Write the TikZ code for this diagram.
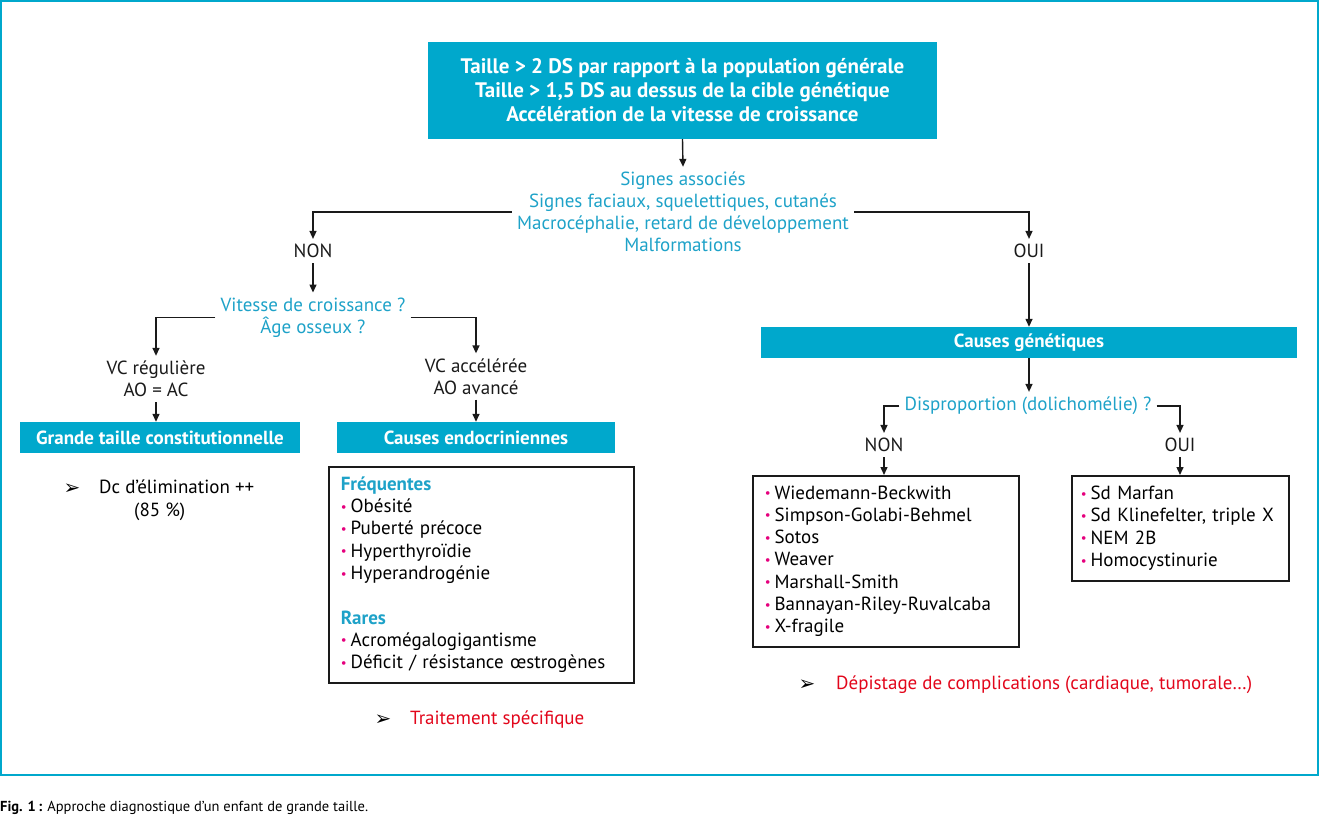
\documentclass[tikz,border=0pt]{standalone}
\usepackage{fontspec}
\setmainfont{PT Sans}
\newfontfamily\symfont{DejaVu Sans}
\usetikzlibrary{arrows.meta,positioning,calc}
\definecolor{gtCyan}{HTML}{00A8CC}
\definecolor{gtCyanTxt}{HTML}{1EA2C8}
\definecolor{gtRed}{HTML}{E2061B}
\definecolor{gtPink}{HTML}{E5007D}
\definecolor{gtInk}{HTML}{1A1A1A}
\newcommand{\puce}{\textcolor{gtPink}{\raisebox{1.5pt}{\fontsize{13}{13}\selectfont •}}\hspace{4pt}}
\newcommand{\fleche}{{\symfont ➢}}
\tikzset{
  hdr/.style={fill=gtCyan, text=white, font=\bfseries\fontsize{19}{22}\selectfont, align=center, inner sep=0pt},
  lbl/.style={text=gtInk, align=center, inner sep=5pt},
  qst/.style={lbl, text=gtCyanTxt},
  lst/.style={draw=gtInk, line width=1.5pt, anchor=north west, align=left, inner xsep=12pt, inner ysep=0pt,
    font=\fontsize{19}{22.3}\selectfont},
  arr/.style={-{Triangle[length=8pt,width=7pt]}, line width=1.4pt, draw=gtInk},
  pointer/.style={anchor=center, inner sep=0pt, text=black, font=\fontsize{20}{20}\selectfont},
  note/.style={anchor=west, inner sep=0pt},
}

\begin{document}
\begin{tikzpicture}[x=1pt, y=-1pt, font=\fontsize{19}{22}\selectfont]
  \useasboundingbox (0,0) rectangle (1320,819);
  % ---------- frame and caption ----------
  \draw[gtCyan, line width=2.5pt] (1,1) rectangle (1318,775);
  \node[note, font=\fontsize{14.5}{18}\selectfont] (cap) at (0,808)
    {\textbf{Fig. 1\,:} Approche diagnostique d’un enfant de grande taille.};

  % ---------- top ----------
  \node[hdr, font=\bfseries\fontsize{21}{24}\selectfont, minimum width=509pt, minimum height=97pt] (top) at (682.5,90.5)
    {Taille > 2 DS par rapport à la population générale\\
     Taille > 1,5 DS au dessus de la cible génétique\\
     Accélération de la vitesse de croissance};
  \node[qst] (signes) at (683,212)
    {Signes associés\\ Signes faciaux, squelettiques, cutanés\\
     Macrocéphalie, retard de développement\\ Malformations};
  \node[lbl] (non) at (313,251) {NON};
  \node[lbl] (oui) at (1029,251) {OUI};

  % ---------- left branch ----------
  \node[qst] (vit) at (313,317.5) {Vitesse de croissance ?\\ Âge osseux ?};
  \node[lbl] (vcreg) at (156,379) {VC régulière\\ AO = AC};
  \node[lbl] (vcacc) at (476,376.5) {VC accélérée\\ AO avancé};
  \node[hdr, minimum width=280pt, minimum height=31pt] (gtc) at (160,437.5) {Grande taille constitutionnelle};
  \node[hdr, minimum width=278pt, minimum height=31pt] (endo) at (476,437.5) {Causes endocriniennes};
  \node[pointer] (dcmark) at (72,489) {\fleche};
  \node[note, align=left, font=\fontsize{19}{23}\selectfont] (dcnote) at (99,500)
    {Dc d’élimination ++\\ \hspace*{35pt}(85 \%)};
  \node[lst, minimum width=305pt, minimum height=216pt, text width=281pt] (endolist) at (328,466)
    {\textcolor{gtCyanTxt}{\bfseries Fréquentes}\\
     \puce Obésité\\ \puce Puberté précoce\\ \puce Hyperthyroïdie\\ \puce Hyperandrogénie\\[22.3pt]
     \textcolor{gtCyanTxt}{\bfseries Rares}\\
     \puce Acromégalogigantisme\\ \puce Déficit / résistance œstrogènes};
  \node[pointer] (trmark) at (383,720) {\fleche};
  \node[note, text=gtRed] (trnote) at (410,720) {Traitement spécifique};

  % ---------- right branch ----------
  \node[hdr, minimum width=536pt, minimum height=31pt] (gen) at (1029,342.5) {Causes génétiques};
  \node[qst] (disp) at (1028,406) {Disproportion (dolichomélie) ?};
  \node[lbl] (nonb) at (884,445) {NON};
  \node[lbl] (ouib) at (1180,445) {OUI};
  \node[lst, minimum width=266pt, minimum height=171pt, text width=242pt] (genlist) at (752,475)
    {\puce Wiedemann-Beckwith\\ \puce Simpson-Golabi-Behmel\\ \puce Sotos\\ \puce Weaver\\
     \puce Marshall-Smith\\ \puce Bannayan-Riley-Ruvalcaba\\ \puce X-fragile};
  \node[lst, inner xsep=9pt, minimum width=217pt, minimum height=105pt, text width=199pt] (marfan) at (1071,475)
    {\puce Sd Marfan\\ \puce Sd Klinefelter, triple X\\ \puce NEM 2B\\ \puce Homocystinurie};
  \node[pointer] (dpmark) at (807,685) {\fleche};
  \node[note, text=gtRed] (dpnote) at (836,685) {Dépistage de complications (cardiaque, tumorale…)};

  % ---------- connectors ----------
  \draw[arr] (top.south) -- (signes.north);
  \draw[arr] (signes.west) -| (non.north);
  \draw[arr] (signes.east) -| (oui.north);
  \draw[arr] (non.south) -- (vit.north);
  \draw[arr] (vit.west) -| (vcreg.north);
  \draw[arr] (vit.east) -| (vcacc.north);
  \draw[arr] (vcreg.south) -- (vcreg.south |- gtc.north);
  \draw[arr] (vcacc.south) -- (vcacc.south |- endo.north);
  \draw[arr] (oui.south) -- (gen.north);
  \draw[arr] (gen.south) -- (gen.south |- disp.north);
  \draw[arr] (disp.west) -| (nonb.north);
  \draw[arr] (disp.east) -| (ouib.north);
  \draw[arr] (nonb.south) -- (nonb.south |- genlist.north);
  \draw[arr] (ouib.south) -- (ouib.south |- marfan.north);
\end{tikzpicture}
\end{document}
